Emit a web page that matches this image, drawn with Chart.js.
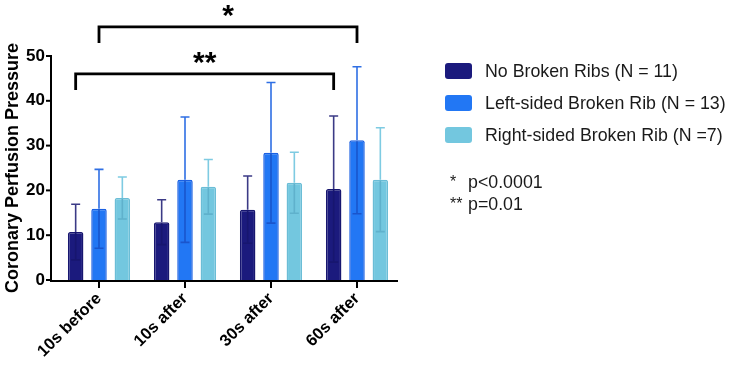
<!DOCTYPE html>
<html>
<head>
<meta charset="utf-8">
<script src="https://cdn.jsdelivr.net/npm/chart.js@4.4.1/dist/chart.umd.min.js"></script>
<style>
  html, body { margin: 0; padding: 0; background: #fff; }
  canvas { display: block; }
</style>
</head>
<body>
<canvas id="mycanvas" width="731" height="368"></canvas>
<script>
// data (mean +/- SD)
var timepoints = ['10s before', '10s after', '30s after', '60s after'];
var groupNames = ['No Broken Ribs (N = 11)', 'Left-sided Broken Rib (N = 13)', 'Right-sided Broken Rib (N =7)'];
var noBrokenMean = [10.7, 12.9, 15.7, 20.3];
var noBrokenSD = [6.2, 5.0, 7.5, 16.3];
var leftMean = [15.9, 22.4, 28.4, 31.2];
var leftSD = [8.8, 14.0, 15.7, 16.4];
var rightMean = [18.3, 20.8, 21.7, 22.4];
var rightSD = [4.7, 6.1, 6.8, 11.6];
var yTicks = [0, 10, 20, 30, 40, 50];

// significance brackets: [dataset, category] -> [dataset, category], bar level, leg end
var sigLabels = ['*', '**'];
var sigFrom = [[1, 0], [0, 0]];
var sigTo = [[1, 3], [0, 3]];
var sigLevel = [56.5, 46.0];
var sigLegEnd = [52.9, 42.4];
var pNoteStars = ['*', '**'];
var pNoteText = ['p<0.0001', 'p=0.01'];

var FONT = '"Liberation Sans", Arial, Helvetica, sans-serif';
Chart.defaults.font.family = FONT;
Chart.defaults.color = '#000';

var errorBars = {
  id: 'errorBars',
  afterDatasetsDraw: function(chart) {
    var ctx = chart.ctx;
    var y = chart.scales.y;
    ctx.save();
    ctx.lineWidth = 1.6;
    chart.data.datasets.forEach(function(ds, i) {
      var meta = chart.getDatasetMeta(i);
      meta.data.forEach(function(bar, j) {
        var x = bar.x;
        var top = y.getPixelForValue(ds.data[j] + ds.sd[j]);
        var low = y.getPixelForValue(Math.max(0, ds.data[j] - ds.sd[j]));
        ctx.strokeStyle = ds.whisker;
        ctx.beginPath();
        ctx.moveTo(x, bar.y);
        ctx.lineTo(x, top);
        ctx.moveTo(x - 4.5, top);
        ctx.lineTo(x + 4.5, top);
        ctx.stroke();
        ctx.strokeStyle = ds.inner;
        ctx.beginPath();
        ctx.moveTo(x, bar.y + 1);
        ctx.lineTo(x, low);
        ctx.moveTo(x - 4.5, low);
        ctx.lineTo(x + 4.5, low);
        ctx.stroke();
      });
    });
    ctx.restore();
  }
};

var axesAndNotes = {
  id: 'axesAndNotes',
  afterDraw: function(chart) {
    var ctx = chart.ctx;
    var y = chart.scales.y;
    var area = chart.chartArea;
    var axisX = area.left - 5;
    var y0 = y.getPixelForValue(0);
    ctx.save();
    // axes
    ctx.strokeStyle = '#000';
    ctx.lineWidth = 2;
    ctx.beginPath();
    ctx.moveTo(axisX, y.getPixelForValue(50) - 1);
    ctx.lineTo(axisX, y0 + 1);
    ctx.lineTo(area.right - 2, y0 + 1);
    ctx.stroke();
    yTicks.forEach(function(v) {
      var py = y.getPixelForValue(v);
      ctx.beginPath();
      ctx.moveTo(axisX - 5, py);
      ctx.lineTo(axisX, py);
      ctx.stroke();
    });

    // brackets
    ctx.lineWidth = 2.8;
    ctx.strokeStyle = '#000';
    ctx.fillStyle = '#000';
    sigLabels.forEach(function(lbl, k) {
      var x1 = chart.getDatasetMeta(sigFrom[k][0]).data[sigFrom[k][1]].x;
      var x2 = chart.getDatasetMeta(sigTo[k][0]).data[sigTo[k][1]].x;
      var ly = y.getPixelForValue(sigLevel[k]);
      var le = y.getPixelForValue(sigLegEnd[k]);
      ctx.beginPath();
      ctx.moveTo(x1, le);
      ctx.lineTo(x1, ly);
      ctx.lineTo(x2, ly);
      ctx.lineTo(x2, le);
      ctx.stroke();
      ctx.font = 'bold 30px ' + FONT;
      ctx.textAlign = 'center';
      ctx.textBaseline = 'alphabetic';
      var m = ctx.measureText(lbl);
      var cy = ly - 16;
      var base = cy - (m.actualBoundingBoxDescent - m.actualBoundingBoxAscent) / 2;
      ctx.fillText(lbl, (x1 + x2) / 2, base);
    });

    // legend
    ctx.textAlign = 'left';
    ctx.textBaseline = 'middle';
    chart.data.datasets.forEach(function(ds, i) {
      var ry = 71 + i * 32;
      ctx.fillStyle = ds.backgroundColor;
      ctx.beginPath();
      ctx.roundRect(445, ry - 8, 27, 16, 3);
      ctx.fill();
      ctx.fillStyle = '#1a1a1a';
      ctx.font = '17.8px ' + FONT;
      ctx.fillText(ds.label, 485, ry + 1);
    });

    // p-value notes
    pNoteText.forEach(function(t, i) {
      var ry = 183 + i * 22;
      ctx.fillStyle = '#1a1a1a';
      ctx.font = '16px ' + FONT;
      ctx.fillText(pNoteStars[i], 450, ry);
      ctx.font = '17.8px ' + FONT;
      ctx.fillText(t, 468, ry);
    });
    ctx.restore();
  }
};

var chartdata = {
  labels: timepoints,
  datasets: [
    {
      label: groupNames[0],
      data: noBrokenMean,
      sd: noBrokenSD,
      backgroundColor: '#1b1a7d',
      borderColor: '#17166f',
      whisker: '#3b3a86',
      inner: '#17166f'
    },
    {
      label: groupNames[1],
      data: leftMean,
      sd: leftSD,
      backgroundColor: '#2277f4',
      borderColor: '#1b60e2',
      whisker: '#2f6fe4',
      inner: '#1a55cc'
    },
    {
      label: groupNames[2],
      data: rightMean,
      sd: rightSD,
      backgroundColor: '#73c7df',
      borderColor: '#6bbdd6',
      whisker: '#7ecbe2',
      inner: '#5fb1cc'
    }
  ]
};

var ctx = document.getElementById('mycanvas');

var barGraph = new Chart(ctx, {
  type: 'bar',
  data: chartdata,
  options: {
    responsive: false,
    animation: false,
    devicePixelRatio: 1,
    datasets: {
      bar: {
        categoryPercentage: 0.814,
        barPercentage: 0.665,
        borderWidth: 1.5,
        borderRadius: 2,
        borderSkipped: 'start'
      }
    },
    layout: { padding: { top: 56, right: 331, left: 0, bottom: 0 } },
    plugins: {
      legend: { display: false },
      tooltip: { enabled: false }
    },
    scales: {
      x: {
        afterFit: function(scale) { scale.height = 88; },
        border: { display: false },
        grid: {
          display: true,
          drawOnChartArea: false,
          offset: false,
          tickLength: 8,
          lineWidth: 2,
          color: '#000'
        },
        ticks: {
          minRotation: 45,
          maxRotation: 45,
          padding: 1,
          color: '#000',
          font: { size: 16.5, weight: 'bold' }
        }
      },
      y: {
        min: 0,
        max: 50,
        afterFit: function(scale) { scale.width = 56; },
        border: { display: false },
        grid: { display: false, drawTicks: false },
        afterBuildTicks: function(scale) {
          scale.ticks = yTicks.map(function(v) { return { value: v }; });
        },
        ticks: {
          padding: 11,
          color: '#000',
          font: { size: 17, weight: 'bold' }
        },
        title: {
          display: true,
          text: 'Coronary Perfusion Pressure',
          color: '#000',
          padding: { top: 2, bottom: 0 },
          font: { size: 18, weight: 'bold' }
        }
      }
    }
  },
  plugins: [errorBars, axesAndNotes]
});
</script>
</body>
</html>
